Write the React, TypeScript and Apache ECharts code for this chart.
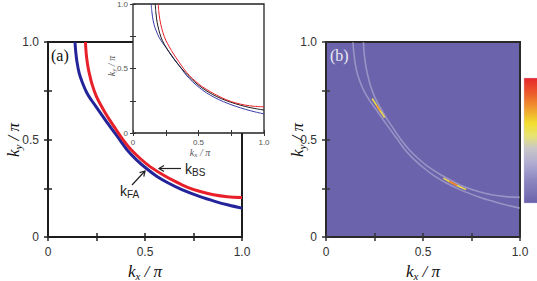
import React, { useEffect, useRef } from 'react';
import * as echarts from 'echarts';

// Fermi-surface contours (kx/π, ky/π)
const redKx = [0.193, 0.197, 0.204, 0.213, 0.228, 0.25, 0.277, 0.31, 0.348, 0.388, 0.43, 0.478, 0.526, 0.594, 0.655, 0.716, 0.785, 0.853, 0.925, 1.0];
const redKy = [1.0, 0.94, 0.885, 0.839, 0.78, 0.72, 0.668, 0.612, 0.555, 0.497, 0.446, 0.4, 0.361, 0.318, 0.285, 0.256, 0.233, 0.217, 0.207, 0.203];
const blueKx = [0.139, 0.143, 0.149, 0.161, 0.178, 0.2, 0.225, 0.251, 0.31, 0.371, 0.406, 0.455, 0.509, 0.56, 0.62, 0.69, 0.784, 0.86, 0.93, 1.0];
const blueKy = [1.0, 0.95, 0.9, 0.839, 0.79, 0.74, 0.7, 0.664, 0.58, 0.497, 0.449, 0.397, 0.35, 0.312, 0.277, 0.243, 0.207, 0.183, 0.164, 0.148];
const blackKx = [0.17, 0.174, 0.18, 0.19, 0.205, 0.225, 0.255, 0.29, 0.33, 0.375, 0.42, 0.47, 0.52, 0.58, 0.64, 0.71, 0.785, 0.86, 0.93, 1.0];
const blackKy = [1.0, 0.94, 0.885, 0.83, 0.77, 0.715, 0.66, 0.605, 0.55, 0.495, 0.445, 0.397, 0.355, 0.315, 0.282, 0.252, 0.226, 0.205, 0.19, 0.178];
// bright intersection spots in panel (b)
const hot1Kx = [0.238, 0.255, 0.272, 0.288, 0.302];
const hot1Ky = [0.71, 0.684, 0.658, 0.634, 0.612];
const hot1CoreKx = [0.26, 0.28];
const hot1CoreKy = [0.677, 0.646];
const hot2Kx = [0.605, 0.64, 0.68, 0.722];
const hot2Ky = [0.302, 0.282, 0.262, 0.243];
const hot2CoreKx = [0.635, 0.675];
const hot2CoreKy = [0.285, 0.265];

const tickValues = [0, 0.5, 1.0];
const tickLabels = ['0', '0.5', '1.0'];

const pairs = (xs: number[], ys: number[]) => xs.map((x, i) => [x, ys[i]]);
const fmt = (v: number) => {
  const i = tickValues.findIndex((t) => Math.abs(t - v) < 1e-9);
  return i >= 0 ? tickLabels[i] : '';
};

const SERIF = 'Liberation Serif, Times New Roman, serif';
const SANS = 'Liberation Sans, Arial, sans-serif';

function axisPair(gridIndex: number, opts: { labelSize: number; labelColor: string; margin: number; tickLen: number; tickColor: string; tickWidth: number; z: number }) {
  const base = {
    gridIndex,
    type: 'value' as const,
    min: 0,
    max: 1,
    interval: 0.25,
    z: opts.z,
    splitLine: { show: false },
    axisLine: { show: false },
    axisTick: { show: true, inside: true, length: opts.tickLen, lineStyle: { color: opts.tickColor, width: opts.tickWidth } },
  };
  const lab = { show: true, formatter: fmt, fontSize: opts.labelSize, color: opts.labelColor, fontFamily: SANS, margin: opts.margin };
  return {
    x: [
      { ...base, position: 'bottom', axisLabel: lab },
      { ...base, position: 'top', axisLabel: { show: false } },
    ],
    y: [
      { ...base, position: 'left', axisLabel: lab },
      { ...base, position: 'right', axisLabel: { show: false } },
    ],
  };
}

function axisName(x: number, y: number, sub: string, size: number, color: string, rotate: boolean, z = 20) {
  return {
    type: 'text',
    x,
    y,
    rotation: rotate ? Math.PI / 2 : 0,
    z,
    style: {
      text: `{k|k}{s|${sub}}{k| / π}`,
      align: 'center',
      verticalAlign: 'middle',
      fill: color,
      rich: {
        k: { fontFamily: SERIF, fontStyle: 'italic', fontSize: size, lineHeight: size + 3, fill: color, color },
        s: { fontFamily: SERIF, fontStyle: 'italic', fontSize: Math.round(size * 0.65), verticalAlign: 'bottom', lineHeight: Math.round(size * 0.5), fill: color, color },
      },
    },
  };
}

function kLabel(x: number, y: number, sub: string) {
  return {
    type: 'text',
    x,
    y,
    z: 20,
    style: {
      text: `{k|k}{s|${sub}}`,
      align: 'left',
      verticalAlign: 'middle',
      fill: '#222',
      rich: {
        k: { fontFamily: SANS, fontSize: 14, lineHeight: 16, color: '#222' },
        s: { fontFamily: SANS, fontSize: 10, verticalAlign: 'bottom', lineHeight: 7, color: '#222' },
      },
    },
  };
}

export default function App() {
  const ref = useRef<HTMLDivElement>(null);
  useEffect(() => {
    if (!ref.current) return;
    const chart = echarts.init(ref.current, undefined, { renderer: 'svg' });
    const a = axisPair(0, { labelSize: 12, labelColor: '#333', margin: 9, tickLen: 4, tickColor: '#222', tickWidth: 1.5, z: 1 });
    const ins = axisPair(1, { labelSize: 8, labelColor: '#555', margin: 5, tickLen: 3, tickColor: '#333', tickWidth: 1, z: 8 });
    const b = axisPair(2, { labelSize: 12, labelColor: '#333', margin: 9, tickLen: 4, tickColor: '#333', tickWidth: 1.5, z: 4 });

    const line = (name: string, xi: number, yi: number, data: number[][], color: string, width: number, z: number) => ({
      name,
      type: 'line',
      xAxisIndex: xi,
      yAxisIndex: yi,
      data,
      smooth: 0.35,
      showSymbol: false,
      symbol: 'none',
      z,
      lineStyle: { color, width },
      silent: true,
    });

    const option: any = {
      animation: false,
      grid: [
        { left: 48, top: 42, width: 194, height: 195, show: true, backgroundColor: 'transparent', borderColor: '#1c1c1c', borderWidth: 2, z: 0 },
        { left: 133, top: 2, width: 131, height: 131, show: true, backgroundColor: '#ffffff', borderColor: '#222', borderWidth: 1.3, z: 6 },
        { left: 326, top: 42, width: 194, height: 195, show: true, backgroundColor: '#6b63ab', borderColor: '#2a2a2a', borderWidth: 2, z: 0 },
      ],
      xAxis: [...a.x, ...ins.x, ...b.x],
      yAxis: [...a.y, ...ins.y, ...b.y],
      series: [
        line('kFA', 0, 0, pairs(blueKx, blueKy), '#24249a', 3, 2),
        line('kBS', 0, 0, pairs(redKx, redKy), '#e8202a', 3, 3),
        line('inset blue', 2, 2, pairs(blueKx, blueKy), '#3a3aa8', 1, 9),
        line('inset black', 2, 2, pairs(blackKx, blackKy), '#1a1a1a', 1, 9),
        line('inset red', 2, 2, pairs(redKx, redKy), '#e8202a', 1, 10),
        line('b outer', 4, 4, pairs(redKx, redKy), 'rgba(225,220,240,0.4)', 1.6, 2),
        line('b inner', 4, 4, pairs(blueKx, blueKy), 'rgba(225,220,240,0.4)', 1.6, 2),
        line('hot1', 4, 4, pairs(hot1Kx, hot1Ky), '#eedc4a', 1.6, 3),
        line('hot1 core', 4, 4, pairs(hot1CoreKx, hot1CoreKy), '#f0a034', 1.6, 4),
        line('hot2', 4, 4, pairs(hot2Kx, hot2Ky), '#eedc4a', 1.6, 3),
        line('hot2 core', 4, 4, pairs(hot2CoreKx, hot2CoreKy), '#ec8030', 1.8, 4),
      ],
      graphic: [
        axisName(145, 271, 'x', 17, '#111', false),
        axisName(13, 140, 'y', 17, '#111', true),
        axisName(423, 271, 'x', 17, '#111', false),
        axisName(297, 140, 'y', 17, '#111', true),
        axisName(200, 152, 'x', 10, '#555', false, 30),
        axisName(111, 66, 'y', 10, '#555', true, 30),
        { type: 'text', x: 51, y: 55, z: 20, style: { text: '(a)', fontFamily: SERIF, fontSize: 16, fill: '#111', align: 'left', verticalAlign: 'middle' } },
        { type: 'text', x: 330, y: 55, z: 20, style: { text: '(b)', fontFamily: SERIF, fontSize: 16, fill: '#ecebf5', align: 'left', verticalAlign: 'middle' } },
        kLabel(185, 169, 'BS'),
        kLabel(120, 191, 'FA'),
        { type: 'line', z: 20, shape: { x1: 181, y1: 168.5, x2: 159, y2: 168.5 }, style: { stroke: '#222', lineWidth: 1.2 } },
        { type: 'polyline', z: 20, shape: { points: [[164, 165.5], [159, 168.5], [164, 171.5]] }, style: { stroke: '#222', lineWidth: 1.2, fill: null } },
        { type: 'line', z: 20, shape: { x1: 132, y1: 185, x2: 145, y2: 171 }, style: { stroke: '#222', lineWidth: 1.2 } },
        { type: 'polyline', z: 20, shape: { points: [[139.6, 172.6], [145, 171], [143.8, 176.6]] }, style: { stroke: '#222', lineWidth: 1.2, fill: null } },
        {
          type: 'rect',
          z: 20,
          shape: { x: 524, y: 78, width: 20, height: 125 },
          style: {
            fill: new echarts.graphic.LinearGradient(0, 0, 0, 1, [
              { offset: 0, color: '#e8262c' },
              { offset: 0.12, color: '#ec5a2c' },
              { offset: 0.24, color: '#f09a2e' },
              { offset: 0.36, color: '#f2de30' },
              { offset: 0.46, color: '#e8e470' },
              { offset: 0.56, color: '#cac8c6' },
              { offset: 0.68, color: '#b0acd2' },
              { offset: 0.82, color: '#8c86c0' },
              { offset: 1, color: '#6b63ab' },
            ]),
            stroke: 'rgba(200,196,230,0.8)',
            lineWidth: 0.5,
          },
        },
      ],
    };
    chart.setOption(option);
    return () => chart.dispose();
  }, []);
  return <div ref={ref} style={{ position: 'fixed', left: 0, top: 0, width: 537, height: 281, background: '#fff' }} />;
}
